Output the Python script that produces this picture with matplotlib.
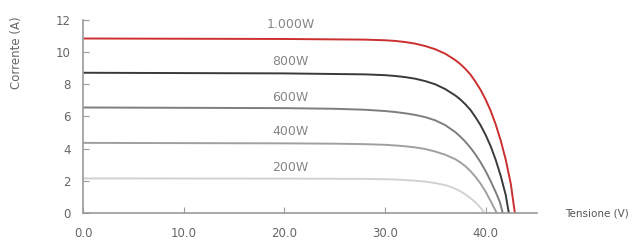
import matplotlib.pyplot as plt

# curve data (V, A)
v_1000 = [0, 20, 28, 30, 31, 32, 33, 34, 35, 36, 37, 37.5, 38, 38.5, 39, 39.5, 40, 40.5, 41, 41.5, 42, 42.5, 42.9]
i_1000 = [10.85, 10.82, 10.78, 10.74, 10.70, 10.63, 10.53, 10.38, 10.18, 9.9, 9.5, 9.25, 8.95, 8.6, 8.15,
          7.65, 7.05, 6.35, 5.5, 4.5, 3.3, 1.8, 0]
v_800 = [0, 20, 28, 30, 31, 32, 33, 34, 35, 36, 37, 37.5, 38, 38.5, 39, 39.5, 40, 40.5, 41, 41.5, 42, 42.3]
i_800 = [8.72, 8.68, 8.62, 8.57, 8.52, 8.45, 8.35, 8.2, 8.0, 7.7, 7.3, 7.05, 6.75, 6.4, 5.95, 5.45, 4.85,
         4.15, 3.3, 2.3, 1.1, 0]
v_600 = [0, 20, 25, 28, 30, 31, 32, 33, 34, 35, 36, 37, 37.5, 38, 38.5, 39, 39.5, 40, 40.5, 41, 41.4, 41.7]
i_600 = [6.56, 6.52, 6.48, 6.42, 6.34, 6.28, 6.2, 6.1, 5.96, 5.76, 5.46, 5.02, 4.74, 4.42, 4.05, 3.63, 3.15,
         2.6, 1.98, 1.3, 0.7, 0]
v_400 = [0, 20, 25, 28, 30, 31, 32, 33, 34, 35, 36, 37, 37.5, 38, 38.5, 39, 39.5, 40, 40.5, 41.1]
i_400 = [4.36, 4.33, 4.31, 4.28, 4.24, 4.2, 4.15, 4.08, 3.98, 3.82, 3.62, 3.34, 3.14, 2.9, 2.6, 2.24, 1.82,
         1.32, 0.74, 0]
v_200 = [0, 20, 28, 30, 31, 32, 33, 34, 35, 36, 36.5, 37, 37.5, 38, 38.5, 39, 39.5, 39.9]
i_200 = [2.15, 2.14, 2.12, 2.1, 2.08, 2.05, 2.01, 1.95, 1.86, 1.73, 1.63, 1.5, 1.35, 1.15, 0.92, 0.65,
         0.32, 0]

labels = ['1.000W', '800W', '600W', '400W', '200W']
label_y = [11.7, 9.4, 7.2, 5.05, 2.85]
colors = ['#cc2f2f', '#3a3a3a', '#7e7e7e', '#a0a0a0', '#d2d2d2']

series = [(v_1000, i_1000), (v_800, i_800), (v_600, i_600), (v_400, i_400), (v_200, i_200)]

fig = plt.figure(figsize=(6.35, 2.4), dpi=100)
ax = fig.add_axes([83 / 635, 1 - 213 / 240, (537 - 83) / 635, (213 - 20) / 240])

for (v, i), c in zip(series, colors):
    ax.plot(v, i, color=c, lw=1.4, solid_joinstyle='round')

for lab, y in zip(labels, label_y):
    ax.text(20.6, y, lab, color='#858585', fontsize=9, ha='center', va='center')

ax.set_xlim(0, 45.1)
ax.set_ylim(0, 12)
ax.set_xticks([0, 10, 20, 30, 40])
ax.set_xticklabels(['0.0', '10.0', '20.0', '30.0', '40.0'])
ax.set_yticks([0, 2, 4, 6, 8, 10, 12])
for s in ['top', 'right']:
    ax.spines[s].set_visible(False)
for s in ['left', 'bottom']:
    ax.spines[s].set_color('#9a9a9a')
    ax.spines[s].set_linewidth(1.2)
ax.tick_params(direction='in', length=4, color='#9a9a9a', labelcolor='#666666', labelsize=8.5)
ax.tick_params(axis='x', pad=10)
ax.tick_params(axis='y', pad=9)

fig.text(17 / 635, 1 - 53 / 240, 'Corrente (A)', rotation=90, ha='center', va='center',
         color='#666666', fontsize=8.5)
fig.text(597 / 635, 1 - 213 / 240, 'Tensione (V)', ha='center', va='center',
         color='#555555', fontsize=7.5)

fig.savefig('out.png', dpi=100)
